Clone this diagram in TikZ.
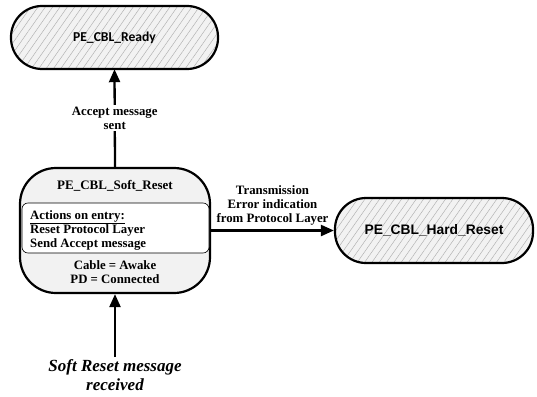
\documentclass[tikz,border=0pt]{standalone}
\usepackage{fontspec}
\setmainfont{Liberation Serif}
\newfontfamily\calibri{Carlito}
\newfontfamily\arial{Liberation Sans}
\usepackage{tikz}
\usetikzlibrary{calc,positioning,arrows.meta,patterns.meta}
\usepackage{xcolor}
\definecolor{statefill}{RGB}{242,242,242}
\definecolor{hatchcol}{RGB}{175,175,175}

\tikzset{
  oldstate/.style={draw, line width=2.2pt, rounded corners=31pt,
    preaction={fill=statefill},
    pattern={Lines[angle=55,distance=6pt,line width=0.45pt]}, pattern color=hatchcol},
  arr/.style={line width=2.3pt, -{Triangle[length=13pt,width=11pt]}},
  lbl/.style={font=\bfseries\fontsize{12.8}{14}\selectfont, align=center, inner sep=1pt}
}

\begin{document}
\begin{tikzpicture}[x=1pt, y=-1pt]
  \useasboundingbox (0,0) rectangle (537,396);

  % states
  \node[oldstate, minimum width=207pt, minimum height=63pt, font=\calibri\bfseries\fontsize{13.6}{16}\selectfont]
    (ready) at (114.5,37.5) {PE\_CBL\_Ready};
  \node[oldstate, minimum width=198pt, minimum height=65pt, font=\arial\bfseries\fontsize{13.8}{16}\selectfont]
    (hard) at (434,230.5) {PE\_CBL\_Hard\_Reset};
  \node[draw, line width=2.2pt, rounded corners=36pt, fill=statefill,
    minimum width=190pt, minimum height=125pt] (soft) at (115,230.5) {};

  % inside of the soft reset state
  \node[font=\bfseries\fontsize{13}{15}\selectfont] (softname) at (115,186) {PE\_CBL\_Soft\_Reset};
  \node[draw, line width=0.6pt, fill=white, rounded corners=6pt,
    minimum width=187pt, minimum height=50pt] (entry) at (115.5,228) {};
  \node[lbl, align=left, anchor=west] (entrytxt) at (29,230)
    {\underline{Actions on entry:}\\Reset Protocol Layer\\Send Accept message};
  \node[lbl] (status) at (115,272.5) {Cable = Awake\\PD = Connected};

  % transitions
  \node[font=\bfseries\itshape\fontsize{17}{19}\selectfont, align=center, inner sep=2pt]
    (recv) at (115,375) {Soft Reset message\\received};
  \draw[arr] (recv.north) -- (soft.south);
  \draw[arr] (soft.north) -- (ready.south)
    node[lbl, midway, fill=white, inner sep=2pt] (acc) {Accept message\\sent};
  \draw[arr] (soft.east) -- (hard.west)
    node[lbl, midway, above=3pt] (err) {Transmission\\Error indication\\from Protocol Layer};
\end{tikzpicture}
\end{document}
